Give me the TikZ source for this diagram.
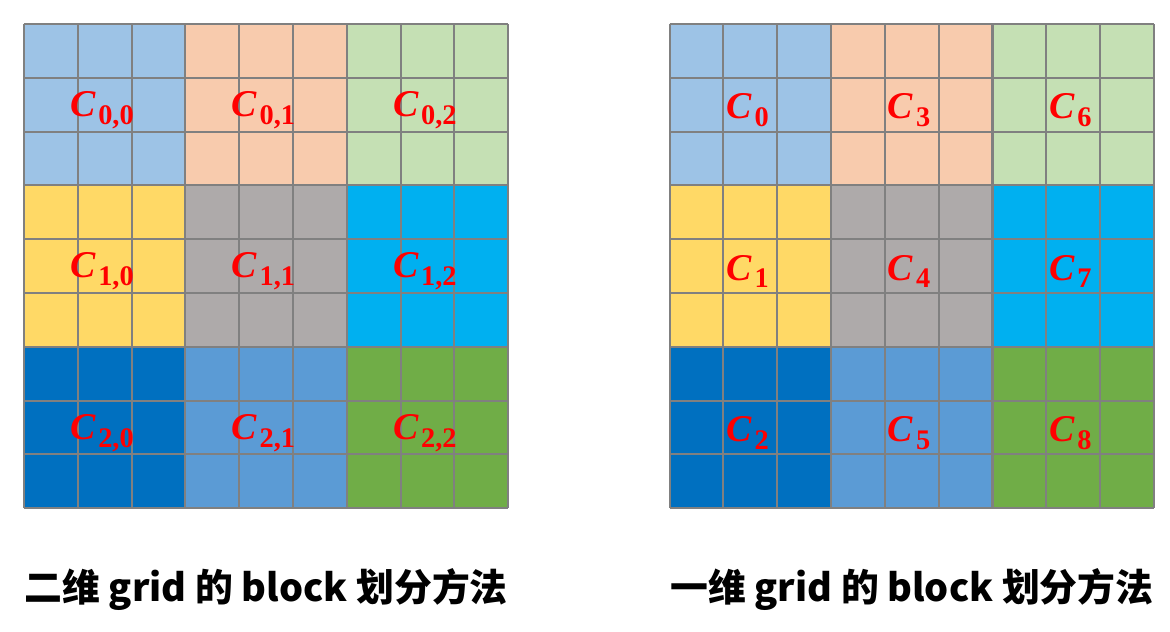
\documentclass[tikz,border=0pt]{standalone}
\usepackage{fontspec}
\newfontfamily\cjk{Noto Sans CJK SC}
\newfontfamily\lblfont{Liberation Serif}
\usetikzlibrary{positioning}
\definecolor{gridgray}{HTML}{808080}
\definecolor{blkA}{HTML}{9DC3E6}
\definecolor{blkB}{HTML}{F8CBAD}
\definecolor{blkC}{HTML}{C5E0B4}
\definecolor{blkD}{HTML}{FFD966}
\definecolor{blkE}{HTML}{AEAAAA}
\definecolor{blkF}{HTML}{00B0F0}
\definecolor{blkG}{HTML}{0070C0}
\definecolor{blkH}{HTML}{5B9BD5}
\definecolor{blkI}{HTML}{70AD47}
\newcommand\blklabel[1]{{\bfseries\itshape C}\kern1.5pt\raisebox{-4.2pt}{\fontsize{15}{17}\selectfont\bfseries #1}}
\tikzset{
    block/.style={minimum size=3cm, inner sep=0pt, draw=none},
    blabel/.style={text=red, inner sep=1pt, xshift=-0.05cm, yshift=-0.1cm,
        font=\lblfont\fontsize{20}{22}\selectfont},
    gridline/.style={draw=gridgray, line width=1.1pt},
    caption/.style={font=\cjk\bfseries\fontsize{20}{24}\selectfont}
}

\begin{document}
\begin{tikzpicture}
    \useasboundingbox (-0.446,-2.30) rectangle (21.30,9.446);
    % two-dimensional indexing
    \foreach \r/\c/\col in {0/0/blkA, 0/1/blkB, 0/2/blkC,
                            1/0/blkD, 1/1/blkE, 1/2/blkF,
                            2/0/blkG, 2/1/blkH, 2/2/blkI} {
        \node[block, fill=\col] (L\r\c) at ({3*\c+1.5},{7.5-3*\r}) {};
        \node[block, fill=\col] (R\r\c) at ({13.5+3*\c},{7.5-3*\r}) {};
    }
    \draw[gridline] (0,0) grid (9,9);
    \draw[gridline] (12,0) grid (21,9);

    % labels on top of the grid
    \foreach \r in {0,1,2} {
        \foreach \c in {0,1,2} {
            \pgfmathtruncatemacro\k{3*\c+\r}
            \node[blabel] (Llbl\r\c) at (L\r\c) {\blklabel{\r,\c}};
            \node[blabel] (Rlbl\k) at (R\r\c) {\blklabel{\k}};
        }
    }

    \node[caption] (capL) at (4.5,-1.52) {二维 grid 的 block 划分方法};
    \node[caption] (capR) at (16.5,-1.52) {一维 grid 的 block 划分方法};
\end{tikzpicture}
\end{document}
